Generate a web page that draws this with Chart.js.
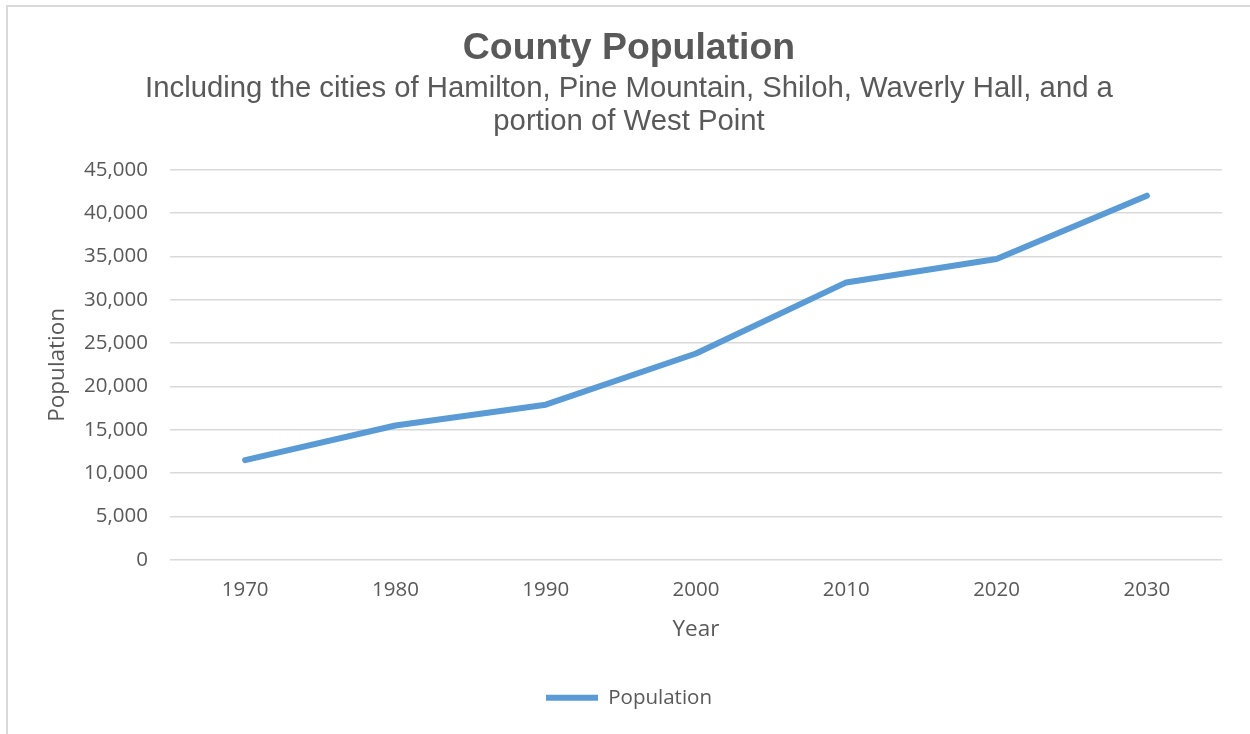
<!DOCTYPE html>
<html>
<head>
<meta charset="utf-8">
<script src="https://cdn.jsdelivr.net/npm/chart.js@4"></script>
<style>
  html, body { margin: 0; padding: 0; background: #fff; width: 1250px; height: 734px; overflow: hidden; }
  #frame { position: absolute; left: 6px; top: 5px; width: 1300px; height: 800px;
           border-left: 2px solid #d9d9d9; border-top: 2px solid #d9d9d9; }
  #wrap { position: absolute; left: 36px; top: 0; width: 1186px; height: 734px; }
</style>
</head>
<body>
<div id="frame"></div>
<div id="wrap"><canvas id="c"></canvas></div>
<script>
const years = ['1970', '1980', '1990', '2000', '2010', '2020', '2030'];
const population = [11500, 15500, 17900, 23800, 32000, 34700, 42000];
const titleText = 'County Population';
const subtitleLines = ['Including the cities of Hamilton, Pine Mountain, Shiloh, Waverly Hall, and a', 'portion of West Point'];
const seriesName = 'Population';
const xTitle = 'Year';
const yTitle = 'Population';

const textColor = '#595959';
const gridColor = '#d9d9d9';
const lineColor = '#5b9bd5';

new Chart(document.getElementById('c'), {
  type: 'line',
  data: {
    labels: years,
    datasets: [{
      label: seriesName,
      data: population,
      borderColor: lineColor,
      backgroundColor: lineColor,
      borderWidth: 6,
      borderCapStyle: 'round',
      borderJoinStyle: 'round',
      tension: 0,
      pointRadius: 0,
      pointHoverRadius: 0,
      pointStyle: 'line'
    }]
  },
  options: {
    responsive: true,
    maintainAspectRatio: false,
    animation: false,
    layout: { padding: { left: 0, right: 0, top: 0, bottom: 16 } },
    plugins: {
      title: {
        display: true,
        text: titleText,
        color: textColor,
        font: { family: 'Liberation Sans', size: 37.4, weight: 'bold', lineHeight: 1.2 },
        padding: { top: 26, bottom: 0 }
      },
      subtitle: {
        display: true,
        text: subtitleLines,
        color: textColor,
        font: { family: 'Liberation Sans', size: 29.3, weight: 'normal', lineHeight: 1.14 },
        padding: { top: 1, bottom: 31 }
      },
      legend: {
        display: true,
        position: 'bottom',
        labels: {
          color: textColor,
          font: { family: 'Open Sans', size: 20.5 },
          usePointStyle: true,
          pointStyle: 'line',
          pointStyleWidth: 52,
          padding: 10
        }
      },
      tooltip: { enabled: false }
    },
    scales: {
      x: {
        offset: true,
        grid: { display: false, drawTicks: false },
        border: { display: false },
        ticks: {
          color: textColor,
          font: { family: 'Open Sans', size: 20.5 },
          padding: 18,
          maxRotation: 0
        },
        title: {
          display: true,
          text: xTitle,
          color: textColor,
          font: { family: 'Open Sans', size: 22.5, lineHeight: 1.2 },
          padding: { top: -4, bottom: 34 }
        }
      },
      y: {
        min: 0,
        max: 45000,
        afterFit: (scale) => { scale.width = 134; },
        grid: { color: gridColor, lineWidth: 1.5, drawTicks: false },
        border: { display: false },
        ticks: {
          stepSize: 5000,
          color: textColor,
          font: { family: 'Open Sans', size: 20.5 },
          padding: 22,
          callback: (v) => Number(v).toLocaleString('en-US')
        },
        title: {
          display: true,
          text: yTitle,
          color: textColor,
          font: { family: 'Open Sans', size: 22.5, lineHeight: 1.2 },
          padding: { top: 8.5, bottom: 0 }
        }
      }
    }
  }
});
</script>
</body>
</html>
